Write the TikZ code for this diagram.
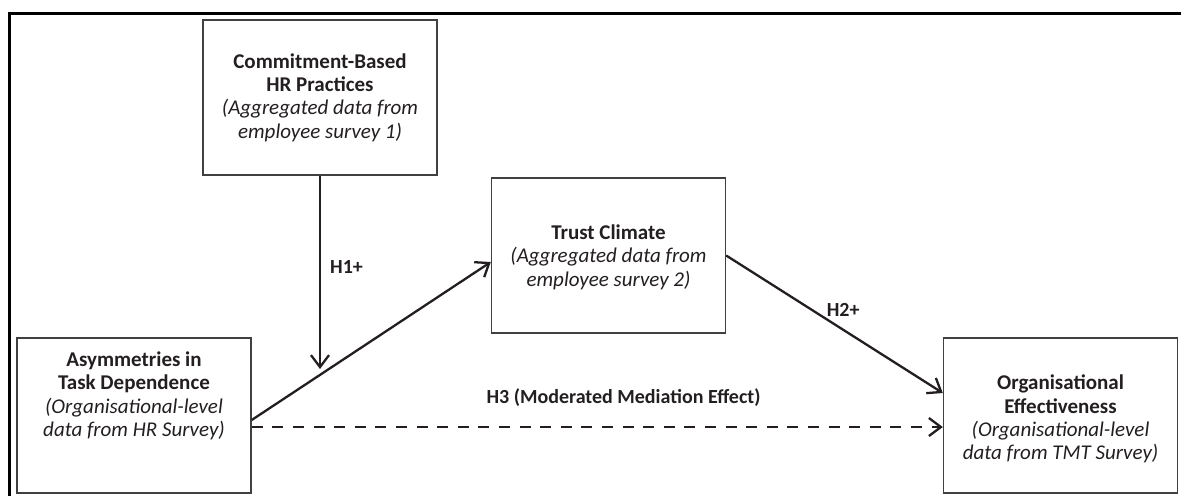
\documentclass[tikz,border=0pt]{standalone}
\usepackage{fontspec}
\setmainfont{Carlito}
\usetikzlibrary{arrows.meta}
\definecolor{ink}{HTML}{231F20}
\definecolor{edgegray}{HTML}{404040}

\tikzset{
  box/.style={draw=edgegray, line width=0.7pt, minimum width=117pt, minimum height=77.5pt, inner sep=0pt},
  boxtext/.style={align=center, text=ink, font=\fontsize{10.5}{11.7}\selectfont, inner sep=0pt},
  link/.style={draw=ink, line width=1.15pt, -{Straight Barb[length=6pt,width=9pt]}},
  hyp/.style={font=\bfseries\fontsize{10}{12}\selectfont, text=ink, inner sep=0pt},
}

\begin{document}
\begin{tikzpicture}[x=0.5pt,y=-0.5pt]
	\useasboundingbox (0,0) rectangle (1181,495);
	\clip (0,0) rectangle (1181,495);
	% outer frame, cut off at right and bottom
	\draw[line width=1.3pt] (9.5,520) -- (9.5,13.3) -- (1200,13.3);
	
	\node[box] (HR) at (320,97.5) {};
	\node[box] (TC) at (608.5,255.5) {};
	\node[box] (TD) at (134,415.5) {};
	\node[box] (OE) at (1060.5,415.5) {};
	
	\node[boxtext] (HRt) at (320,97.5) {\textbf{Commitment-Based}\\\textbf{HR Practices}\\\textit{(Aggregated data from}\\\textit{employee survey 1)}};
	\node[boxtext] (TCt) at (608.5,257) {\textbf{Trust Climate}\\\textit{(Aggregated data from}\\\textit{employee survey 2)}};
	\node[boxtext] (TDt) at (134,396) {\textbf{Asymmetries in}\\\textbf{Task Dependence}\\\textit{(Organisational-level}\\\textit{data from HR Survey)}};
	\node[boxtext] (OEt) at (1060.5,419) {\textbf{Organisational}\\\textbf{Effectiveness}\\\textit{(Organisational-level}\\\textit{data from TMT Survey)}};
	
	\coordinate (tip) at (320,369);
	
	\draw[link] (HR.south) -- node[hyp, pos=.47, right=4.5pt] {H1+} (tip);
	\draw[link] ([yshift=-2.25pt]TD.east) -- ([yshift=-3.25pt]TC.west);
	\draw[link] (TC.east) -- node[hyp, pos=.54, above=6pt] {H2+} ([yshift=11.25pt]OE.west);
	\draw[link, dash pattern=on 5.5pt off 4.8pt] ([yshift=-5.75pt]TD.east) -- node[hyp, pos=.538, above=9.5pt] {H3 (Moderated Mediation Effect)} ([yshift=-5.75pt]OE.west);
\end{tikzpicture}
\end{document}
